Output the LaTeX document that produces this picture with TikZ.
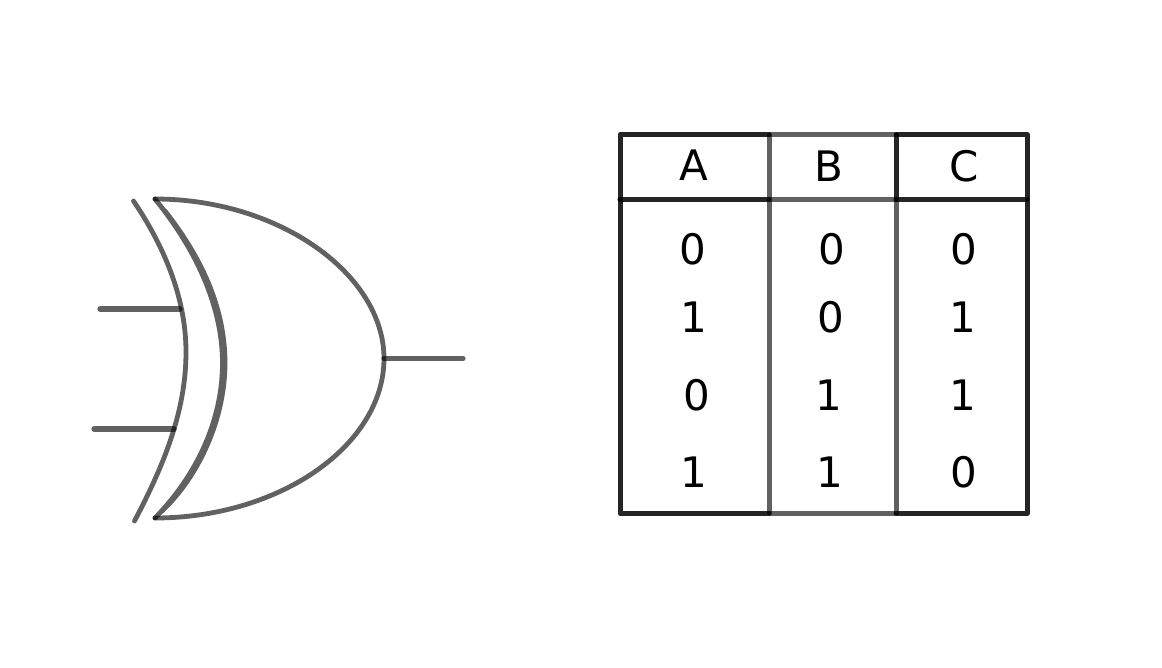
\documentclass[tikz,border=0pt]{standalone}
\usepackage{fontspec}
\setmainfont{DejaVu Sans}
\tikzset{
  stroke/.style={draw=black, draw opacity=0.62, line width=5.2pt, line cap=round, line join=round},
  thinstroke/.style={stroke, line width=4.8pt},
  tablestroke/.style={stroke, line width=5pt},
  cell/.style={inner sep=0pt, anchor=base, text=black, font=\fontsize{42}{42}\selectfont},
}
\begin{document}
\begin{tikzpicture}[x=1pt,y=-1pt]
\useasboundingbox (0,0) rectangle (1162,668);
% gate
\coordinate (bodyTop) at (155,199);
\coordinate (bodyBot) at (155,518);
\coordinate (bodyTip) at (384,358.5);
\coordinate (in1) at (100,309);
\coordinate (in1end) at (180,309);
\coordinate (in2) at (94,429);
\coordinate (in2end) at (174,429);
\coordinate (outEnd) at (463,358.5);
\draw[thinstroke] (133.5,201) .. controls (168,252) and (186,303) .. (186,352) .. controls (186,410) and (165,463) .. (134.5,521);
\draw[thinstroke, draw opacity=1, draw=black!62] (165,211) .. controls (205,262) and (225,312) .. (225,363) .. controls (225,420) and (198,477) .. (162,511);
\draw[thinstroke, draw opacity=1, draw=black!62] (bodyTop) .. controls (199,253) and (222.5,310) .. (222.5,363) .. controls (222.5,420) and (197,475) .. (bodyBot);
\draw[thinstroke] (bodyTop) .. controls (280,199) and (384,275) .. (bodyTip) .. controls (384,445) and (280,518) .. (bodyBot);
\draw[stroke] (in1) -- (in1end);
\draw[stroke] (in2) -- (in2end);
\draw[stroke] (bodyTip) -- (outEnd);
% table
\coordinate (tl) at (620,135);
\coordinate (tr) at (1027,135);
\coordinate (bl) at (620,513);
\coordinate (br) at (1027,513);
\coordinate (t1) at (769,135);
\coordinate (t2) at (896,135);
\coordinate (b1) at (769,513);
\coordinate (b2) at (896,513);
\coordinate (m0) at (620,199.5);
\coordinate (m1) at (769,199.5);
\coordinate (m2) at (896,199.5);
\coordinate (m3) at (1027,199.5);
\draw[tablestroke] (tl) -- (tr) -- (br) -- (bl) -- cycle;
\draw[tablestroke] (t1) -- (tl) -- (bl) -- (b1);
\draw[tablestroke] (t2) -- (tr) -- (br) -- (b2);
\draw[tablestroke] (t1) -- (b1);
\draw[tablestroke] (t2) -- (b2);
\draw[tablestroke] (t2) -- (m2);
\draw[tablestroke] (m0) -- (m1) -- (m2) -- (m3);
\draw[tablestroke] (m0) -- (m1);
\draw[tablestroke] (m2) -- (m3);
% texts
\node[cell] (hA) at (693.5,180.5) {A};
\node[cell] (hB) at (829,181.5) {B};
\node[cell] (hC) at (964,181.5) {C};
\node[cell] (a1) at (693,265) {0};
\node[cell] (a2) at (694,333) {1};
\node[cell] (a3) at (697,410) {0};
\node[cell] (a4) at (694,487) {1};
\node[cell] (b1t) at (832,265) {0};
\node[cell] (b2t) at (831,333) {0};
\node[cell] (b3t) at (829,410) {1};
\node[cell] (b4t) at (830,487) {1};
\node[cell] (c1) at (964,265) {0};
\node[cell] (c2) at (963,333) {1};
\node[cell] (c3) at (963,410) {1};
\node[cell] (c4) at (964,487) {0};
\end{tikzpicture}
\end{document}
